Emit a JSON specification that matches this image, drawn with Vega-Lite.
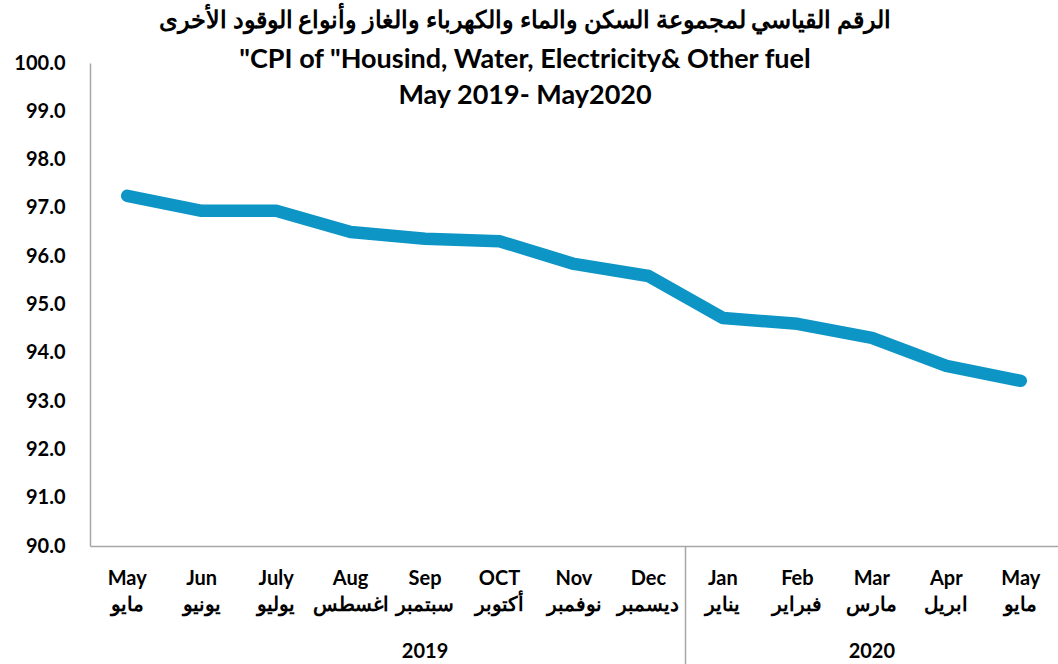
{
  "$schema": "https://vega.github.io/schema/vega-lite/v6.json",
  "width": 968,
  "height": 483,
  "autosize": "none",
  "padding": {"left": 90, "top": 63, "right": 0, "bottom": 118},
  "background": "white",
  "config": {"view": {"stroke": null}, "font": "Lato"},
  "title": {
    "text": "الرقم القياسي لمجموعة السكن والماء والكهرباء والغاز وأنواع الوقود الأخرى",
    "subtitle": ["\"CPI of \"Housind, Water, Electricity& Other fuel", "May 2019- May2020"],
    "anchor": "middle",
    "frame": "group",
    "fontSize": 24,
    "fontWeight": "bold",
    "font": "Lato",
    "color": "black",
    "subtitleFontSize": 27,
    "subtitleFontWeight": "bold",
    "subtitleFont": "Lato",
    "subtitleColor": "black",
    "subtitleLineHeight": 36,
    "subtitlePadding": 14,
    "baseline": "top",
    "offset": -56,
    "dx": -49
  },
  "data": {
    "values": [
      {"m": "2019|May|مايو", "v": 97.25},
      {"m": "2019|Jun|يونيو", "v": 96.94},
      {"m": "2019|July|يوليو", "v": 96.94},
      {"m": "2019|Aug|اغسطس", "v": 96.5},
      {"m": "2019|Sep|سبتمبر", "v": 96.36},
      {"m": "2019|OCT|أكتوبر", "v": 96.31},
      {"m": "2019|Nov|نوفمبر", "v": 95.84},
      {"m": "2019|Dec|ديسمبر", "v": 95.59},
      {"m": "2020|Jan|يناير", "v": 94.72},
      {"m": "2020|Feb|فبراير", "v": 94.6},
      {"m": "2020|Mar|مارس", "v": 94.31},
      {"m": "2020|Apr|ابريل", "v": 93.73},
      {"m": "2020|May|مايو", "v": 93.42}
    ]
  },
  "layer": [
    {
      "mark": {"type": "line", "color": "#0C95C5", "strokeWidth": 12.5, "strokeCap": "round", "strokeJoin": "round"},
      "encoding": {
        "x": {
          "field": "m", "type": "nominal", "sort": null, "bandPosition": 0.5,
          "scale": {"type": "band", "paddingInner": 0, "paddingOuter": 0},
          "axis": {
            "orient": "bottom",
            "title": null, "ticks": false, "tickSize": 0, "domainColor": "#A6A6A6", "domainWidth": 1.5,
            "labelExpr": "slice(split(datum.label, '|'), 1)",
            "labelFontSize": 20, "labelFontWeight": "bold", "labelColor": "black", "labelFont": "Lato",
            "labelLineHeight": 26, "labelPadding": 22, "labelAngle": 0, "labelBaseline": "top",
            "labelOverlap": false, "grid": false
          }
        },
        "y": {
          "field": "v", "type": "quantitative",
          "scale": {"domain": [90, 100], "nice": false, "zero": false},
          "axis": {
            "title": null, "values": [90, 91, 92, 93, 94, 95, 96, 97, 98, 99, 100], "format": ".1f",
            "ticks": false, "tickSize": 0, "grid": false, "domainColor": "#A6A6A6", "domainWidth": 1.5,
            "labelFontSize": 20, "labelFontWeight": "bold", "labelColor": "black", "labelFont": "Lato",
            "labelPadding": 25
          }
        }
      }
    },
    {
      "mark": {"type": "point", "opacity": 0},
      "encoding": {
        "x": {
          "field": "m", "type": "nominal", "sort": null,
          "axis": {
            "orient": "bottom",
            "title": null, "values": ["2019|May|مايو", "2020|Jan|يناير"], "bandPosition": 0,
            "ticks": true, "tickSize": 118, "tickColor": "#A6A6A6", "tickWidth": 1.5,
            "labels": false, "domain": false, "grid": false
          }
        }
      }
    },
    {
      "mark": {"type": "point", "opacity": 0},
      "encoding": {
        "x": {
          "field": "m", "type": "nominal", "sort": null,
          "axis": {
            "orient": "bottom",
            "title": null, "values": ["2019|Sep|سبتمبر"], "bandPosition": 0,
            "ticks": false, "tickSize": 0, "domain": false, "grid": false,
            "labelExpr": "'2019'", "labelFontSize": 20, "labelFontWeight": "bold", "labelColor": "black",
            "labelFont": "Lato", "labelPadding": 95, "labelAngle": 0, "labelBaseline": "top"
          }
        }
      }
    },
    {
      "mark": {"type": "point", "opacity": 0},
      "encoding": {
        "x": {
          "field": "m", "type": "nominal", "sort": null,
          "axis": {
            "orient": "bottom",
            "title": null, "values": ["2020|Mar|مارس"], "bandPosition": 0.5,
            "ticks": false, "tickSize": 0, "domain": false, "grid": false,
            "labelExpr": "'2020'", "labelFontSize": 20, "labelFontWeight": "bold", "labelColor": "black",
            "labelFont": "Lato", "labelPadding": 95, "labelAngle": 0, "labelBaseline": "top"
          }
        }
      }
    }
  ],
  "resolve": {"axis": {"x": "independent"}}
}
